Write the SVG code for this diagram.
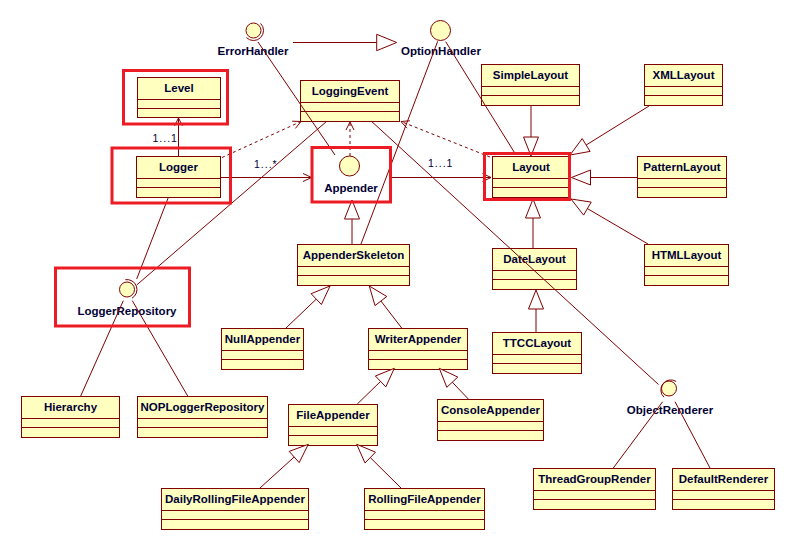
<svg xmlns="http://www.w3.org/2000/svg" width="795" height="549" viewBox="0 0 795 549">
<style>
.b rect{fill:#ffffc0;stroke:#800000;stroke-width:1}
.b path{fill:none;stroke:#800000;stroke-width:1}
text{font-family:"Liberation Sans",Arial,sans-serif;fill:#000035}
.n{font-size:11.5px;font-weight:bold;text-anchor:middle}
.m{font-size:10.5px;letter-spacing:1px}
.ic{fill:#ffffc0;stroke:#800000;stroke-width:1}
.arc{fill:none;stroke:#800000;stroke-width:1}
#connectors line,#connectors path{fill:none;stroke:#800000;stroke-width:1}
#connectors polygon{fill:#fff;stroke:#800000;stroke-width:1}
#connectors .d{stroke-dasharray:3,3}
.hl{fill:none;stroke:#ed1c24;stroke-width:3}
</style>
<rect width="795" height="549" fill="#fff"/>

<g id="nodes">
<g id="Level" class="b"><rect x="137.5" y="77.5" width="83" height="40"/><path d="M137.5 99.5h83M137.5 108.5h83"/><text class="n" x="179" y="92">Level</text></g>
<g id="LoggingEvent" class="b"><rect x="300.5" y="80.5" width="99" height="41"/><path d="M300.5 102.5h99M300.5 111.5h99"/><text class="n" x="350" y="95">LoggingEvent</text></g>
<g id="Logger" class="b"><rect x="136.5" y="156.5" width="84" height="41"/><path d="M136.5 178.5h84M136.5 187.5h84"/><text class="n" x="178.5" y="171">Logger</text></g>
<g id="SimpleLayout" class="b"><rect x="481.5" y="64.5" width="98" height="41"/><path d="M481.5 86.5h98M481.5 95.5h98"/><text class="n" x="530.5" y="79">SimpleLayout</text></g>
<g id="XMLLayout" class="b"><rect x="644.5" y="64.5" width="78" height="41"/><path d="M644.5 86.5h78M644.5 95.5h78"/><text class="n" x="683.5" y="79">XMLLayout</text></g>
<g id="Layout" class="b"><rect x="492.5" y="156.5" width="77" height="41"/><path d="M492.5 178.5h77M492.5 187.5h77"/><text class="n" x="531" y="171">Layout</text></g>
<g id="PatternLayout" class="b"><rect x="637.5" y="156.5" width="89" height="41"/><path d="M637.5 178.5h89M637.5 187.5h89"/><text class="n" x="682" y="171">PatternLayout</text></g>
<g id="HTMLLayout" class="b"><rect x="644.5" y="244.5" width="84" height="41"/><path d="M644.5 266.5h84M644.5 275.5h84"/><text class="n" x="686.5" y="259">HTMLLayout</text></g>
<g id="DateLayout" class="b"><rect x="492.5" y="248.5" width="84" height="41"/><path d="M492.5 270.5h84M492.5 279.5h84"/><text class="n" x="534.5" y="263">DateLayout</text></g>
<g id="TTCCLayout" class="b"><rect x="492.5" y="332.5" width="89" height="41"/><path d="M492.5 354.5h89M492.5 363.5h89"/><text class="n" x="537" y="347">TTCCLayout</text></g>
<g id="AppenderSkeleton" class="b"><rect x="297.5" y="244.5" width="112" height="41"/><path d="M297.5 266.5h112M297.5 275.5h112"/><text class="n" x="353.5" y="259">AppenderSkeleton</text></g>
<g id="NullAppender" class="b"><rect x="221.5" y="328.5" width="82" height="41"/><path d="M221.5 350.5h82M221.5 359.5h82"/><text class="n" x="262.5" y="343">NullAppender</text></g>
<g id="WriterAppender" class="b"><rect x="368.5" y="328.5" width="99" height="41"/><path d="M368.5 350.5h99M368.5 359.5h99"/><text class="n" x="418" y="343">WriterAppender</text></g>
<g id="FileAppender" class="b"><rect x="288.5" y="404.5" width="89" height="41"/><path d="M288.5 426.5h89M288.5 435.5h89"/><text class="n" x="333" y="419">FileAppender</text></g>
<g id="ConsoleAppender" class="b"><rect x="437.5" y="399.5" width="106" height="41"/><path d="M437.5 421.5h106M437.5 430.5h106"/><text class="n" x="490.5" y="414">ConsoleAppender</text></g>
<g id="DailyRollingFileAppender" class="b"><rect x="161.5" y="488.5" width="147" height="41"/><path d="M161.5 510.5h147M161.5 519.5h147"/><text class="n" x="235" y="503">DailyRollingFileAppender</text></g>
<g id="RollingFileAppender" class="b"><rect x="364.5" y="488.5" width="120" height="41"/><path d="M364.5 510.5h120M364.5 519.5h120"/><text class="n" x="424.5" y="503">RollingFileAppender</text></g>
<g id="Hierarchy" class="b"><rect x="21.5" y="396.5" width="98" height="41"/><path d="M21.5 418.5h98M21.5 427.5h98"/><text class="n" x="70.5" y="411">Hierarchy</text></g>
<g id="NOPLoggerRepository" class="b"><rect x="137.5" y="396.5" width="130" height="41"/><path d="M137.5 418.5h130M137.5 427.5h130"/><text class="n" x="202.5" y="411">NOPLoggerRepository</text></g>
<g id="ThreadGroupRender" class="b"><rect x="533.5" y="468.5" width="122" height="41"/><path d="M533.5 490.5h122M533.5 499.5h122"/><text class="n" x="594.5" y="483">ThreadGroupRender</text></g>
<g id="DefaultRenderer" class="b"><rect x="672.5" y="468.5" width="102" height="41"/><path d="M672.5 490.5h102M672.5 499.5h102"/><text class="n" x="723.5" y="483">DefaultRenderer</text></g>

<g id="ErrorHandler"><circle class="ic" cx="253.5" cy="30.5" r="7.5"/><path class="arc" d="M260.6 23.4A10 10 0 1 1 246.4 37.6"/><text class="n" x="253" y="55">ErrorHandler</text></g>
<g id="OptionHandler"><circle class="ic" cx="440.5" cy="30.5" r="10"/><text class="n" x="441" y="55">OptionHandler</text></g>
<g id="Appender"><circle class="ic" cx="349.5" cy="166" r="10"/><text class="n" x="351" y="192">Appender</text></g>
<g id="LoggerRepository"><circle class="ic" cx="127" cy="289.5" r="7.5"/><path class="arc" d="M125.3 279.7A10 10 0 0 1 132 298.2"/><text class="n" x="127" y="315">LoggerRepository</text></g>
<g id="ObjectRenderer"><circle class="ic" cx="669" cy="388.5" r="7.5"/><path class="arc" d="M664 397.2A10 10 0 0 1 676.1 381.4"/><text class="n" x="670" y="414">ObjectRenderer</text></g>
</g>

<g id="connectors">
<line x1="293" y1="42.5" x2="376.7" y2="42.5"/><polygon points="376.7,34.3 376.7,50.7 396.7,42.5"/>
<line x1="531" y1="105.5" x2="531" y2="137"/><polygon points="523.5,137 538.5,137 531,156"/>
<line x1="649" y1="106" x2="586.2" y2="145"/><polygon points="582.2,138.6 590.1,151.4 570,155"/>
<line x1="637" y1="177.5" x2="590.5" y2="177.5"/><polygon points="590.5,170 590.5,185 571.5,177.5"/>
<line x1="648" y1="244" x2="587.4" y2="208.6"/><polygon points="591.2,202.1 583.6,215.1 571,199"/>
<line x1="533" y1="248" x2="533" y2="218"/><polygon points="525.5,218 540.5,218 533,199"/>
<line x1="536" y1="332" x2="536" y2="309"/><polygon points="528.5,309 543.5,309 536,290"/>
<line x1="352" y1="244" x2="352" y2="219"/><polygon points="344.5,219 359.5,219 352,200"/>
<line x1="286" y1="328" x2="316.3" y2="299.1"/><polygon points="321.4,304.5 311.1,293.7 330,286"/>
<line x1="401.7" y1="328" x2="380.9" y2="301"/><polygon points="386.8,296.5 375,305.6 369.3,286"/>
<line x1="357.3" y1="404" x2="380.6" y2="381.4"/><polygon points="385.8,386.9 375.4,376 394.3,368.3"/>
<line x1="468.3" y1="399" x2="452.3" y2="382.2"/><polygon points="457.8,377.1 446.8,387.3 439.3,368.3"/>
<line x1="260" y1="488" x2="294.2" y2="457"/><polygon points="299.2,462.6 289.2,451.4 308.3,444.3"/>
<line x1="401" y1="488" x2="370.3" y2="457.6"/><polygon points="375.5,452.2 365,463 356.7,444.3"/>
<line x1="178.5" y1="156" x2="178.5" y2="118"/><path d="M174.5 126L178.5 118L182.5 126"/>
<line x1="220.5" y1="177.5" x2="311.5" y2="177.5"/><path d="M303 173.5L311.5 177.5L303 181.5"/>
<line x1="392" y1="177.5" x2="491" y2="177.5"/><path d="M482.5 173.5L491 177.5L482.5 181.5"/>
<line class="d" x1="222" y1="157.5" x2="301" y2="121.5"/><path d="M295.4 128.4L301 121.5L292.1 121.2"/>
<line class="d" x1="350" y1="156" x2="350" y2="122"/><path d="M346 130L350 122L354 130"/>
<line class="d" x1="490" y1="157" x2="401" y2="121.5"/><path d="M409.9 120.8L401 121.5L406.9 128.2"/>
<line x1="258" y1="42" x2="335" y2="155"/>
<line x1="437.7" y1="41.3" x2="361" y2="244"/>
<line x1="445.7" y1="41.7" x2="516" y2="155"/>
<line x1="371.7" y1="121.5" x2="658.5" y2="384.5"/>
<line x1="326.5" y1="121.5" x2="136.7" y2="285"/>
<line x1="168.3" y1="197.5" x2="136.7" y2="279"/>
<line x1="123.3" y1="300.7" x2="80.7" y2="396"/>
<line x1="132.3" y1="300.7" x2="187.7" y2="396"/>
<line x1="662.7" y1="401.7" x2="613.3" y2="468"/>
<line x1="675" y1="401.7" x2="710" y2="468"/>
<text class="m" x="152.5" y="141.5">1...1</text>
<text class="m" x="254" y="167.5">1...*</text>
<text class="m" x="428" y="166.5">1...1</text>
</g>

<g id="highlights">
<rect class="hl" x="123.5" y="70.5" width="104" height="53.5"/>
<rect class="hl" x="112" y="148" width="118.5" height="55"/>
<rect class="hl" x="312" y="147.5" width="78.5" height="54.5"/>
<rect class="hl" x="484.5" y="153.5" width="85" height="46"/>
<rect class="hl" x="55.5" y="268" width="134" height="58"/>
</g>
</svg>
